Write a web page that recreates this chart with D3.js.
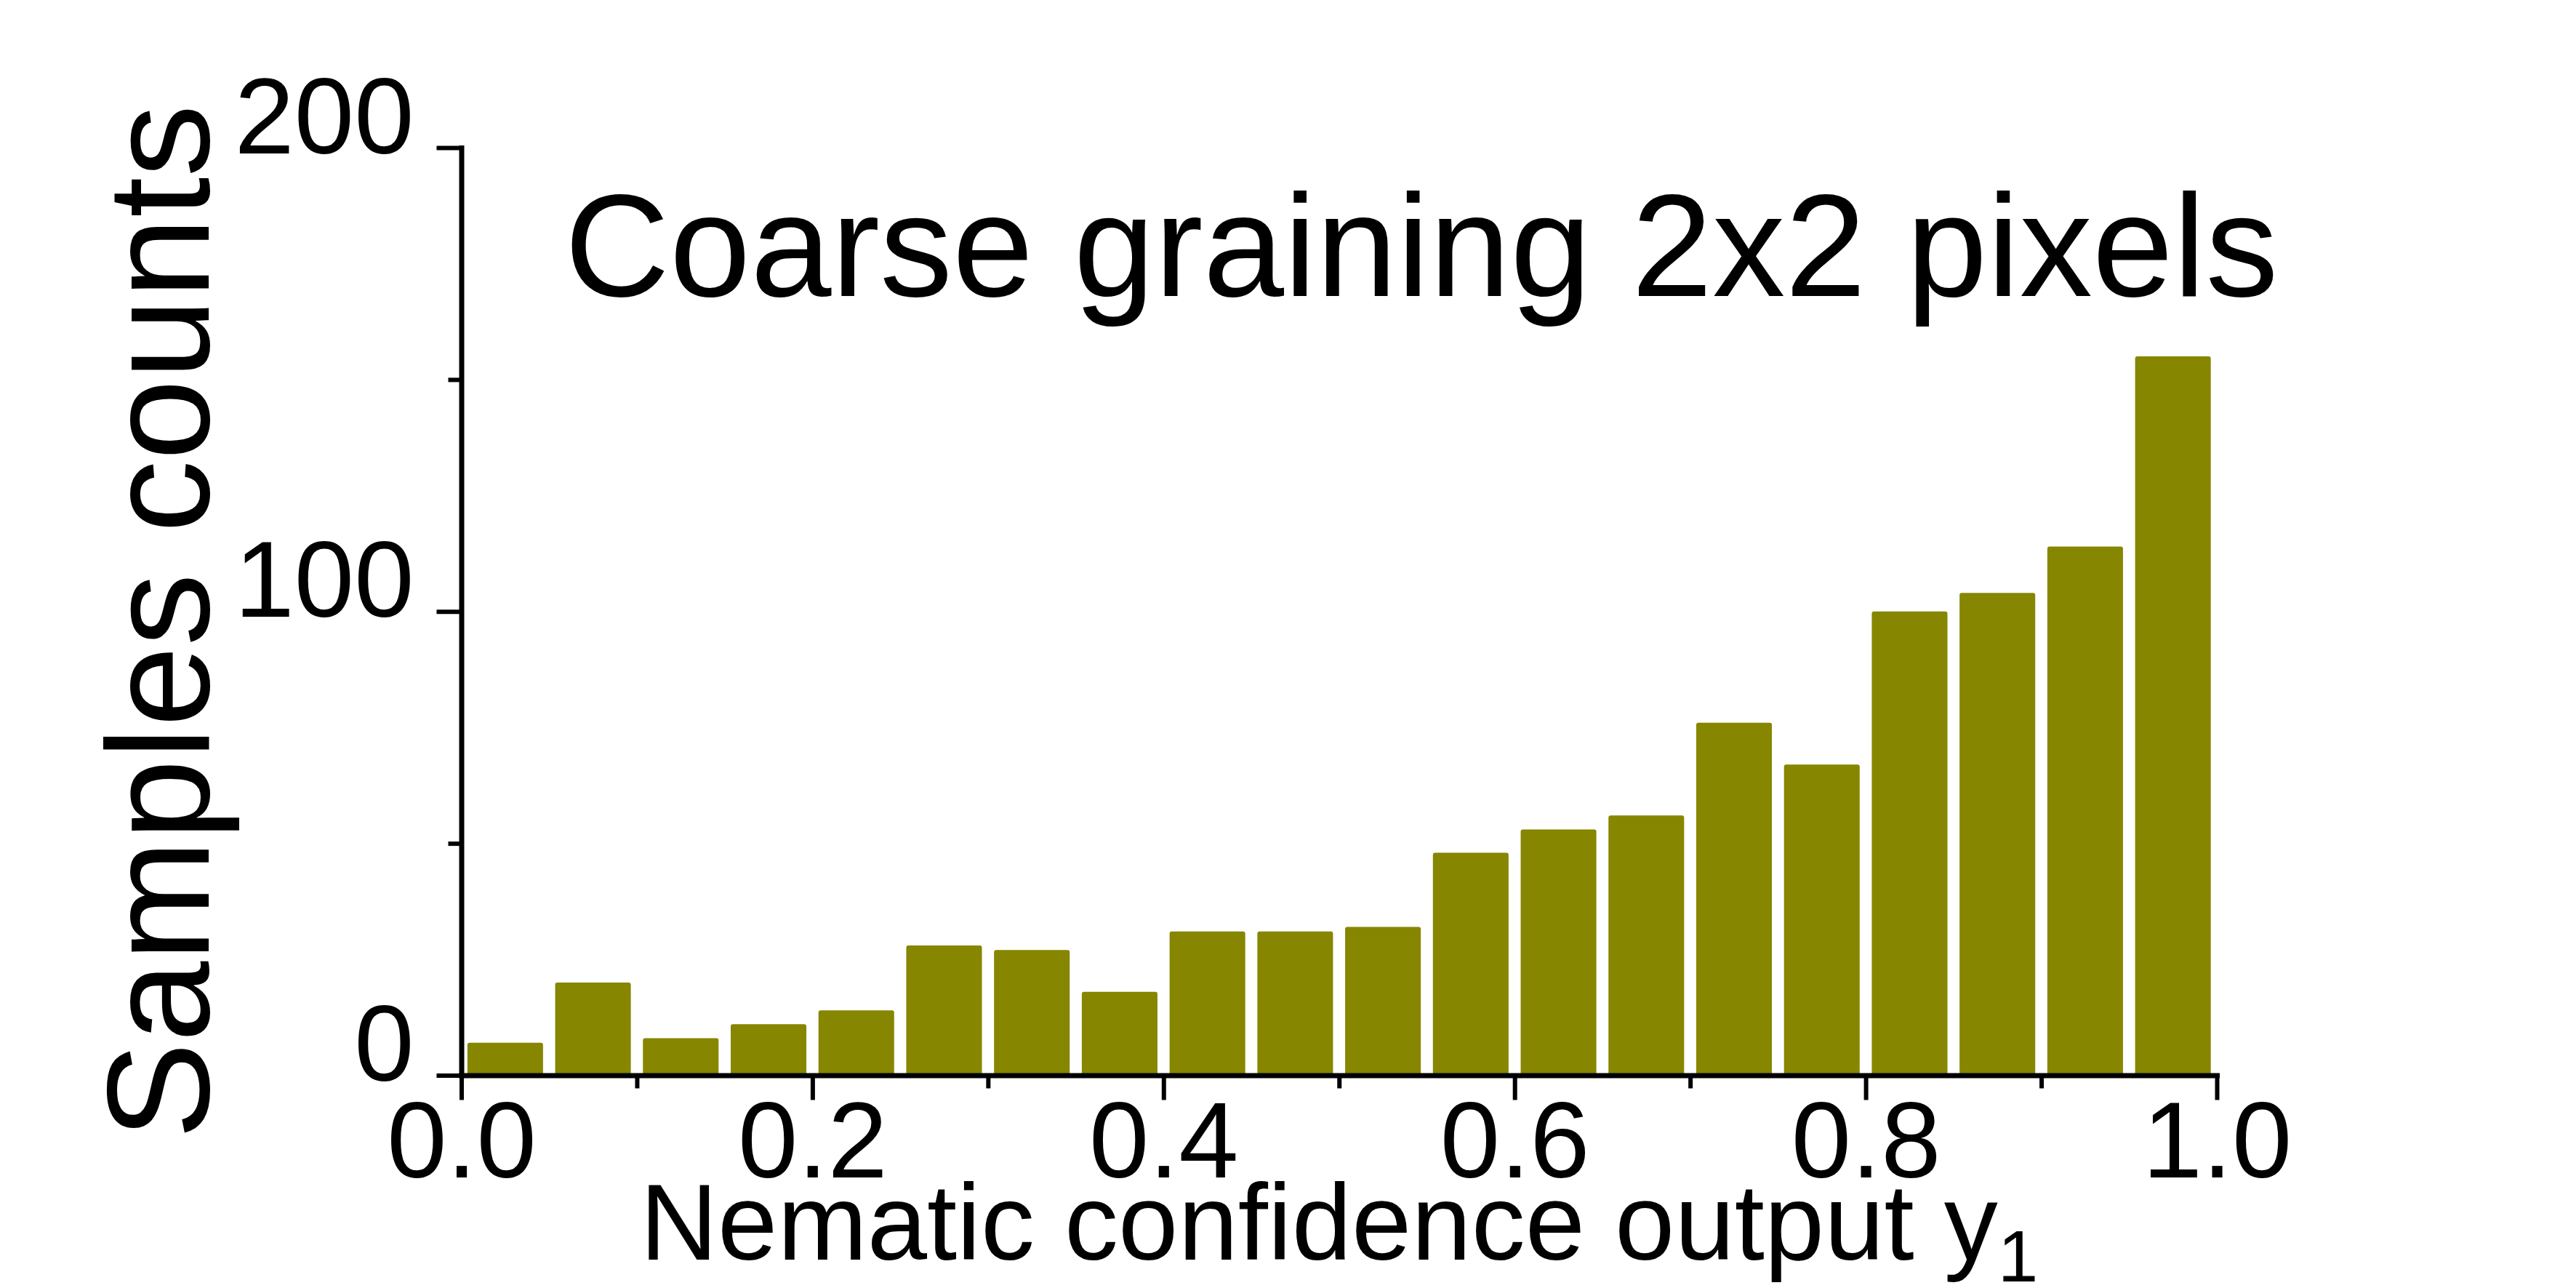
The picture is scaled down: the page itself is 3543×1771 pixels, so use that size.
<!DOCTYPE html>
<html>
<head>
<meta charset="utf-8">
<script src="https://cdn.jsdelivr.net/npm/d3@7"></script>
<style>
  html, body { margin: 0; padding: 0; background: #fff; }
  svg { display: block; }
  text { font-family: "Liberation Sans", Arial, sans-serif; fill: #000; }
</style>
</head>
<body>
<svg id="chart"></svg>
<script>
// histogram bins (left edge) and counts
var binLefts = [0.00, 0.05, 0.10, 0.15, 0.20, 0.25, 0.30, 0.35, 0.40, 0.45,
                0.50, 0.55, 0.60, 0.65, 0.70, 0.75, 0.80, 0.85, 0.90, 0.95];
var counts   = [7, 20, 8, 11, 14, 28, 27, 18, 31, 31,
                32, 48, 53, 56, 76, 67, 100, 104, 114, 155];
var binWidth = 0.05;

var xMajor = [0, 0.2, 0.4, 0.6, 0.8, 1.0];
var xMinor = [0.1, 0.3, 0.5, 0.7, 0.9];
var yMajor = [0, 100, 200];
var yMinor = [50, 150];

var title  = "Coarse graining 2x2 pixels";
var xTitle = "Nematic confidence output y";
var xSub   = "1";
var yTitle = "Samples counts";

(function draw() {
  var w = 3543, h = 1771;
  var left = 634.5, right = 3049, top = 203, bottom = 1478.5;

  var svg = d3.select("#chart").attr("width", w).attr("height", h);

  var x = d3.scaleLinear().domain([0, 1]).range([left, right]);
  var y = d3.scaleLinear().domain([0, 200]).range([bottom, top]);

  // bars
  var pad = (x(binWidth) - x(0)) * 0.069;
  svg.append("g").selectAll("rect").data(counts).enter().append("rect")
    .attr("x", function(d, i) { return x(binLefts[i]) + pad; })
    .attr("width", function(d, i) { return x(binLefts[i] + binWidth) - x(binLefts[i]) - 2 * pad; })
    .attr("y", function(d) { return y(d); })
    .attr("height", function(d) { return y(0) - y(d); })
    .attr("rx", 3).attr("ry", 3)
    .attr("fill", "#868600");

  function styleAxis(g) {
    g.select(".domain").style("stroke-width", "7px").style("stroke-linecap", "square");
    g.selectAll(".tick line").style("stroke-width", "6px");
    g.selectAll("text").style("font-family", "'Liberation Sans', Arial, sans-serif")
      .attr("font-size", 148).attr("fill", "#000");
  }

  // x axis
  var gxMinor = svg.append("g").attr("transform", "translate(0," + bottom + ")")
    .call(d3.axisBottom(x).tickValues(xMinor).tickSize(18).tickFormat(""));
  gxMinor.select(".domain").remove();
  gxMinor.selectAll(".tick line").style("stroke-width", "6px");

  var gx = svg.append("g").attr("transform", "translate(0," + bottom + ")")
    .call(d3.axisBottom(x).tickValues(xMajor).tickSizeInner(34).tickSizeOuter(0)
      .tickFormat(d3.format(".1f")));
  styleAxis(gx);
  gx.selectAll("text").attr("y", 140).attr("dy", null);

  // y axis
  var gyMinor = svg.append("g").attr("transform", "translate(" + left + ",0)")
    .call(d3.axisLeft(y).tickValues(yMinor).tickSize(18).tickFormat(""));
  gyMinor.select(".domain").remove();
  gyMinor.selectAll(".tick line").style("stroke-width", "6px");

  var gy = svg.append("g").attr("transform", "translate(" + left + ",0)")
    .call(d3.axisLeft(y).tickValues(yMajor).tickSizeInner(34).tickSizeOuter(0)
      .tickFormat(d3.format("d")));
  styleAxis(gy);
  gy.selectAll("text").attr("x", -65).attr("y", 7).attr("dy", null);

  // titles
  svg.append("text").attr("x", 1955).attr("y", 407)
    .attr("text-anchor", "middle").attr("font-size", 200).text(title);

  var xt = svg.append("text").attr("x", (left + right) / 2).attr("y", 1732)
    .attr("text-anchor", "middle").attr("font-size", 148);
  xt.append("tspan").text(xTitle);
  xt.append("tspan").attr("font-size", 100).attr("dy", 30).text(xSub);

  svg.append("text")
    .attr("transform", "translate(287,855) rotate(-90)")
    .attr("text-anchor", "middle").attr("font-size", 200).text(yTitle);
})();
</script>
</body>
</html>
